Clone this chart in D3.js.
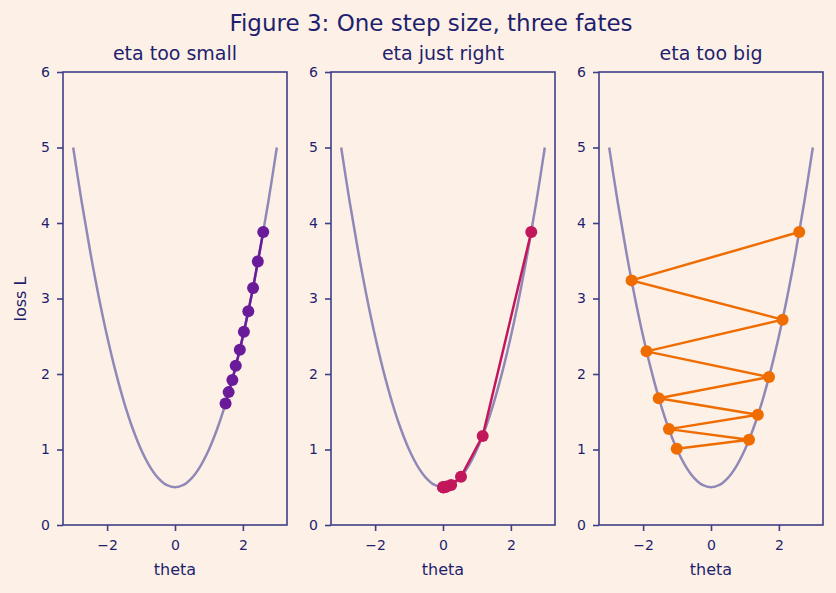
<!DOCTYPE html>
<html>
<head>
<meta charset="utf-8">
<script src="https://cdn.jsdelivr.net/npm/d3@7"></script>
<style>
  body { margin: 0; background: #fdf1e7; }
  svg { display: block; font-family: "DejaVu Sans", sans-serif; }
</style>
</head>
<body>
<svg id="chart"></svg>
<script>
// loss curve L(theta), sampled
const curveTheta = [-3, -2.75, -2.5, -2.25, -2, -1.75, -1.5, -1.25, -1, -0.75, -0.5, -0.25, 0,
                    0.25, 0.5, 0.75, 1, 1.25, 1.5, 1.75, 2, 2.25, 2.5, 2.75, 3];
const curveLoss = [5, 4.281, 3.625, 3.031, 2.5, 2.031, 1.625, 1.281, 1, 0.781, 0.625, 0.531, 0.5,
                   0.531, 0.625, 0.781, 1, 1.281, 1.625, 2.031, 2.5, 3.031, 3.625, 4.281, 5];

// gradient descent paths
const smallTheta = [2.6, 2.44, 2.3, 2.16, 2.03, 1.91, 1.79, 1.69, 1.58, 1.49];
const smallLoss  = [3.88, 3.49, 3.14, 2.83, 2.56, 2.32, 2.11, 1.92, 1.76, 1.61];
const rightTheta = [2.6, 1.17, 0.53, 0.24, 0.11, 0.05, 0.02, 0.01, 0.004, 0.002];
const rightLoss  = [3.88, 1.18, 0.64, 0.53, 0.51, 0.5, 0.5, 0.5, 0.5, 0.5];
const bigTheta   = [2.6, -2.34, 2.11, -1.9, 1.71, -1.54, 1.38, -1.24, 1.12, -1.01];
const bigLoss    = [3.88, 3.24, 2.72, 2.3, 1.96, 1.68, 1.46, 1.27, 1.13, 1.01];

const panelTitles = ["eta too small", "eta just right", "eta too big"];
const xTicks = [-2, 0, 2];
const yTicks = [0, 1, 2, 3, 4, 5, 6];

const width = 836, height = 593;
const ink = "#1f1f6e", spine = "#3f3f88";
const panels = [
  { left: 63,  theta: smallTheta, loss: smallLoss, color: "#6a1b9a" },
  { left: 331, theta: rightTheta, loss: rightLoss, color: "#c2185b" },
  { left: 599, theta: bigTheta,   loss: bigLoss,   color: "#ef6c00" }
];
const panelW = 224, plotTop = 72, plotBottom = 525;

const svg = d3.select("#chart").attr("width", width).attr("height", height);
svg.append("rect").attr("width", width).attr("height", height).attr("fill", "#fdf1e7");

svg.append("text")
  .attr("x", 431).attr("y", 31)
  .attr("text-anchor", "middle")
  .attr("font-size", 23).attr("fill", ink)
  .text("Figure 3: One step size, three fates");

const curveData = curveTheta.map((t, i) => [t, curveLoss[i]]);

panels.forEach((p, k) => {
  const x = d3.scaleLinear().domain([-3.3, 3.3]).range([p.left, p.left + panelW]);
  const y = d3.scaleLinear().domain([0, 6]).range([plotBottom, plotTop]);
  const g = svg.append("g");

  const line = d3.line().x(d => x(d[0])).y(d => y(d[1]));

  g.append("path")
    .attr("d", line.curve(d3.curveCatmullRom)(curveData))
    .attr("fill", "none").attr("stroke", "#9089b8").attr("stroke-width", 2.5);

  const pts = p.theta.map((t, i) => [t, p.loss[i]]);
  g.append("path")
    .attr("d", line.curve(d3.curveLinear)(pts))
    .attr("fill", "none").attr("stroke", p.color).attr("stroke-width", 2.5);
  g.selectAll("circle").data(pts).enter().append("circle")
    .attr("cx", d => x(d[0])).attr("cy", d => y(d[1]))
    .attr("r", 6).attr("fill", p.color);

  const xAxis = g.append("g").attr("transform", `translate(0,${plotBottom})`)
    .call(d3.axisBottom(x).tickValues(xTicks).tickSize(6).tickPadding(9)
      .tickFormat(d => d < 0 ? "\u2212" + Math.abs(d) : d));
  const yAxis = g.append("g").attr("transform", `translate(${p.left},0)`)
    .call(d3.axisLeft(y).tickValues(yTicks).tickSize(6).tickPadding(7)
      .tickFormat(d3.format("d")));
  [xAxis, yAxis].forEach(a => {
    a.select(".domain").remove();
    a.selectAll("line").attr("stroke", spine).attr("stroke-width", 1.6);
    a.selectAll("text").attr("fill", ink).attr("font-size", 14)
      .attr("font-family", "DejaVu Sans, sans-serif");
  });

  g.append("rect")
    .attr("x", p.left).attr("y", plotTop).attr("width", panelW).attr("height", plotBottom - plotTop)
    .attr("fill", "none").attr("stroke", spine).attr("stroke-width", 1.6);

  g.append("text")
    .attr("x", p.left + panelW / 2).attr("y", 60)
    .attr("text-anchor", "middle").attr("font-size", 19).attr("fill", ink)
    .text(panelTitles[k]);

  g.append("text")
    .attr("x", p.left + panelW / 2).attr("y", 575)
    .attr("text-anchor", "middle").attr("font-size", 16).attr("fill", ink)
    .text("theta");
});

svg.append("text")
  .attr("transform", "translate(26,299) rotate(-90)")
  .attr("text-anchor", "middle").attr("font-size", 16).attr("fill", ink)
  .text("loss L");
</script>
</body>
</html>
